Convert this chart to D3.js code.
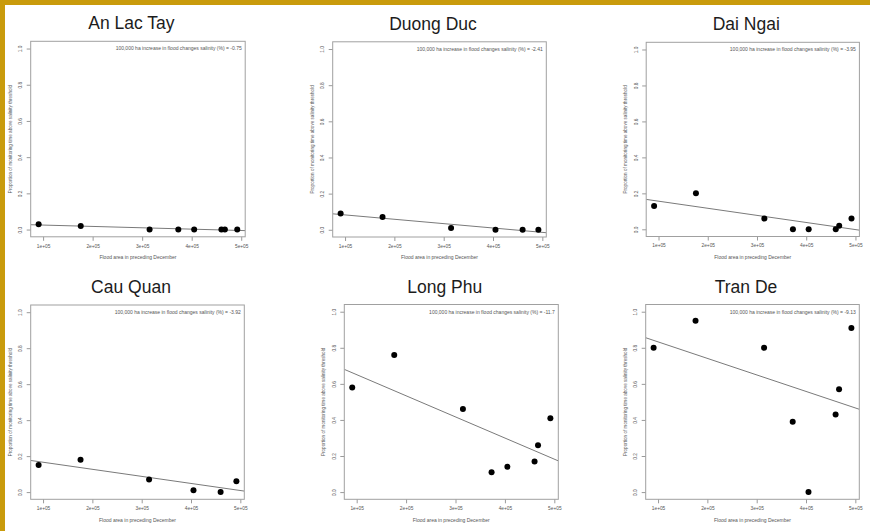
<!DOCTYPE html>
<html>
<head>
<meta charset="utf-8">
<script src="https://cdn.jsdelivr.net/npm/d3@7"></script>
<style>
	body { margin: 0; background: #fff; }
	svg { display: block; }
	.small { font-family: "Liberation Sans", Arial, sans-serif; fill: #555; }
	.title { font-family: "Liberation Sans", Arial, sans-serif; fill: #1c1c1c; }
</style>
</head>
<body>
<div id="chart"></div>
<script>

// flood area in preceding December (ha), one value per year
var floodArea = [91000, 176000, 315000, 373000, 405000, 460000, 467000, 492000];

// proportion of monitoring time above salinity threshold (null = no record)
var anLacTay = [0.03, 0.02, 0.00, 0.00, 0.00, 0.00, 0.00, 0.00];
var duongDuc = [0.09, 0.07, 0.01, null, 0.00, 0.00, null, 0.00];
var daiNgai  = [0.13, 0.20, 0.06, 0.00, 0.00, 0.00, 0.02, 0.06];
var cauQuan  = [0.15, 0.18, 0.07, null, 0.01, 0.00, null, 0.06];
var longPhu  = [0.58, 0.76, 0.46, 0.11, 0.14, 0.17, 0.26, 0.41];
var tranDe   = [0.80, 0.95, 0.80, 0.39, 0.00, 0.43, 0.57, 0.91];

var siteNames = ["An Lac Tay", "Duong Duc", "Dai Ngai", "Cau Quan", "Long Phu", "Tran De"];
var siteValues = [anLacTay, duongDuc, daiNgai, cauQuan, longPhu, tranDe];
var slopeLabels = ["-0.75", "-2.41", "-3.95", "-3.92", "-11.7", "-9.13"];

var xTicks = [100000, 200000, 300000, 400000, 500000];
var yTicks = [0, 0.2, 0.4, 0.6, 0.8, 1.0];

var Chart = function() {

	var svg,
		width = 870, height = 531;

	// plot frame of each panel (left, top, width, height)
	var frames = [
		[30.7, 41.3, 214.5, 195.5],
		[332.7, 41.8, 213.6, 195.2],
		[646.2, 42.3, 213.2, 194.2],
		[30.7, 305.0, 213.6, 194.3],
		[344.3, 304.5, 214.0, 194.8],
		[645.7, 304.5, 213.6, 194.8]
	];

	// R style padded range (4% each side)
	var padded = function(ext) {
		var d = (ext[1] - ext[0]) * 0.04;
		return [ext[0] - d, ext[1] + d];
	}

	// least squares fit, returns [intercept, slope]
	var fit = function(pts) {
		var mx = d3.mean(pts, function(p) { return p[0]; }),
			my = d3.mean(pts, function(p) { return p[1]; }),
			sxy = d3.sum(pts, function(p) { return (p[0] - mx) * (p[1] - my); }),
			sxx = d3.sum(pts, function(p) { return (p[0] - mx) * (p[0] - mx); }),
			b = sxy / sxx;
		return [my - b * mx, b];
	}

	var sciFormat = function(d) {
		return (d / 100000) + "e+05";
	}

	var drawPanel = function(i) {

		var f = frames[i],
			pts, x, y, g, coef, xd;

		pts = floodArea.map(function(a, j) { return [a, siteValues[i][j]]; })
			.filter(function(p) { return p[1] !== null; });

		x = d3.scaleLinear().domain(padded(d3.extent(floodArea))).range([0, f[2]]);
		y = d3.scaleLinear().domain(padded([0, 1])).range([f[3], 0]);

		g = svg.append("g")
		.attr("transform", "translate(" + f[0] + "," + f[1] + ")");

		// title
		svg.append("text")
		.attr("class", "title")
		.attr("x", f[0] + f[2] / 2 - 6.5)
		.attr("y", f[1] - 12)
		.attr("text-anchor", "middle")
		.attr("font-size", 17.5)
		.text(siteNames[i]);

		g.append("clipPath")
		.attr("id", "clip" + i)
		.append("rect")
		.attr("width", f[2])
		.attr("height", f[3]);

		// x axis
		g.append("g")
		.attr("transform", "translate(0," + f[3] + ")")
		.call(d3.axisBottom(x).tickValues(xTicks).tickFormat(sciFormat).tickSize(4).tickPadding(3.5))
		.call(function(a) {
			a.select(".domain").remove();
			a.selectAll("line").attr("stroke", "#9a9a9a");
			a.selectAll("text").attr("class", "small").attr("font-size", 4.8).attr("fill", null);
		});

		// y axis, labels parallel to the axis like R
		g.append("g")
		.call(d3.axisLeft(y).tickValues(yTicks).tickFormat(d3.format(".1f")).tickSize(4))
		.call(function(a) {
			a.select(".domain").remove();
			a.selectAll("line").attr("stroke", "#9a9a9a");
			a.selectAll("text")
			.attr("class", "small")
			.attr("fill", null)
			.attr("font-size", 4.8)
			.attr("x", 0)
			.attr("dy", "0.35em")
			.attr("text-anchor", "middle")
			.attr("transform", "translate(-10,0) rotate(-90)");
		});

		// axis titles
		g.append("text")
		.attr("class", "small")
		.attr("font-size", 5)
		.attr("text-anchor", "middle")
		.attr("x", f[2] / 2)
		.attr("y", f[3] + 22.5)
		.text("Flood area in preceding December");

		g.append("text")
		.attr("class", "small")
		.attr("font-size", 4.6)
		.attr("text-anchor", "middle")
		.attr("transform", "translate(-19," + (f[3] / 2) + ") rotate(-90)")
		.text("Proportion of monitoring time above salinity threshold");

		// annotation
		g.append("text")
		.attr("class", "small")
		.attr("font-size", 5)
		.attr("text-anchor", "end")
		.attr("x", f[2] - 3.5)
		.attr("y", 9)
		.text("100,000 ha increase in flood changes salinity (%) = " + slopeLabels[i]);

		// regression line across the plot region
		coef = fit(pts);
		xd = x.domain();
		g.append("line")
		.attr("clip-path", "url(#clip" + i + ")")
		.attr("x1", x(xd[0]))
		.attr("y1", y(coef[0] + coef[1] * xd[0]))
		.attr("x2", x(xd[1]))
		.attr("y2", y(coef[0] + coef[1] * xd[1]))
		.attr("stroke", "#7a7a7a")
		.attr("stroke-width", 1);

		// points
		g.selectAll("circle")
		.data(pts)
		.enter()
		.append("circle")
		.attr("cx", function(d) { return x(d[0]); })
		.attr("cy", function(d) { return y(d[1]); })
		.attr("r", 3)
		.attr("fill", "#000");

		// box
		g.append("rect")
		.attr("width", f[2])
		.attr("height", f[3])
		.attr("fill", "none")
		.attr("stroke", "#a0a0a0")
		.attr("stroke-width", 1);
	}

	var render = function() {

		svg = d3.select("#chart").append("svg")
		.attr("width", width)
		.attr("height", height);

		svg.append("rect")
		.attr("width", width)
		.attr("height", height)
		.attr("fill", "#fff");

		// gold slide border, top and left
		svg.append("rect").attr("width", width).attr("height", 5).attr("fill", "#c99b0c");
		svg.append("rect").attr("width", 5).attr("height", height).attr("fill", "#c99b0c");

		siteNames.forEach(function(s, i) { drawPanel(i); });
	}

	return { render: render };
};

Chart().render();
</script>
</body>
</html>
